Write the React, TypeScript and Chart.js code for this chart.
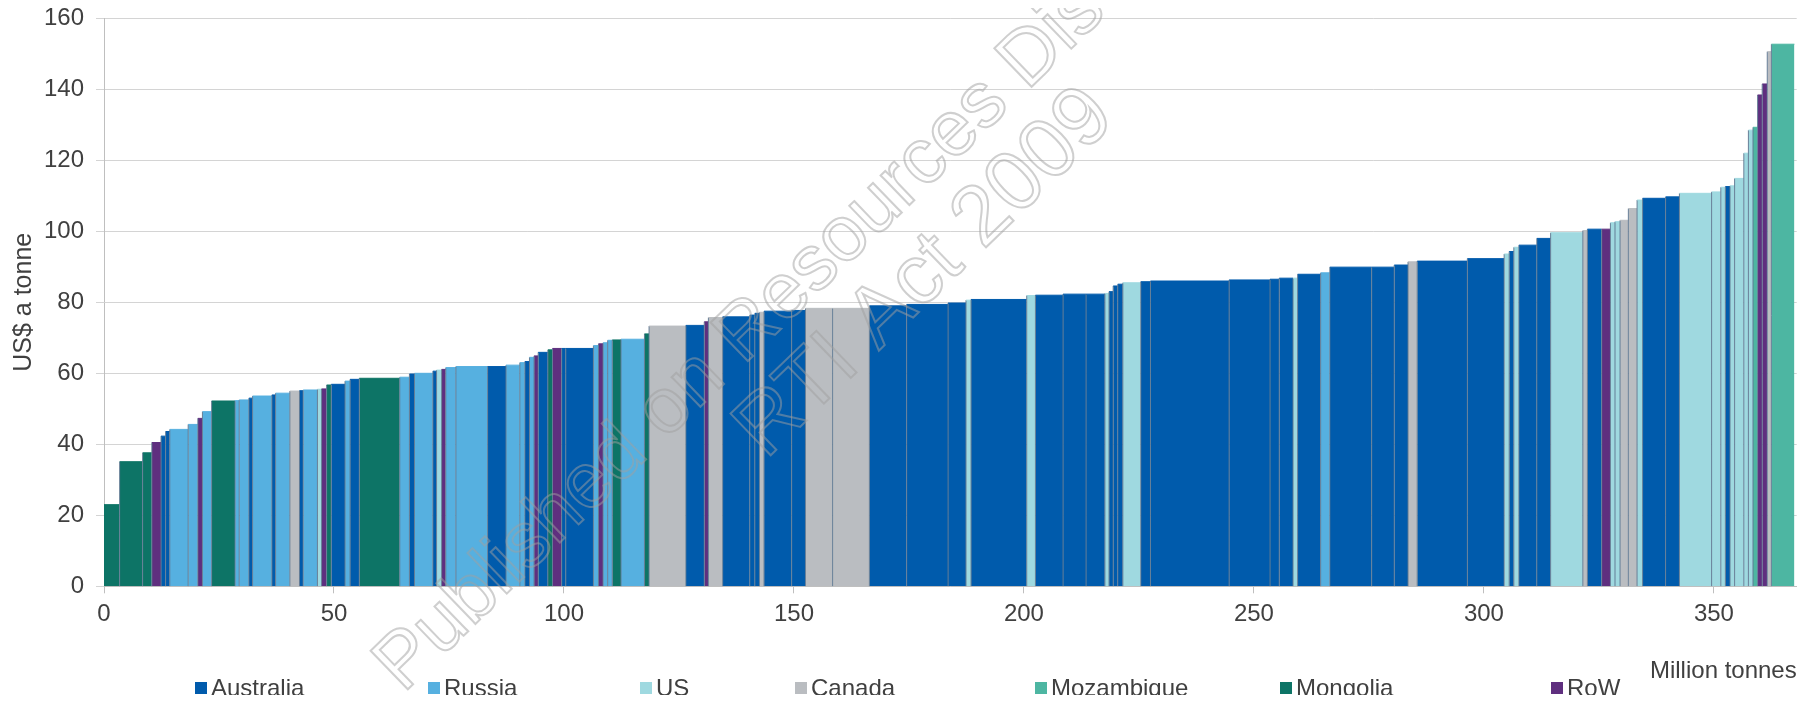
import React, { useEffect, useRef } from "react";
import { Chart, registerables } from "chart.js";

Chart.register(...registerables);

// ---- Data ----
const countryKeys = ["AU", "RU", "US", "CA", "MZ", "MN", "RW"];
const countryLabels = ["Australia", "Russia", "US", "Canada", "Mozambique", "Mongolia", "RoW"];
const countryColors = ["#005bac", "#56b0e0", "#9fd9e0", "#babdc1", "#4db6a2", "#0d7466", "#5f2f7f"];

// volume of each supply block (million tonnes), in cost order
const volumes = [
  3.4, 5.0, 2.0, 2.0, 1.0, 0.9, 4.0, 2.1, 1.0, 2.0,
  5.1, 0.9, 2.1, 0.8, 4.2, 0.8, 3.1, 2.1, 0.8, 3.1,
  0.9, 1.1, 1.0, 3.0, 1.1, 2.0, 8.8, 2.1, 1.1, 4.0,
  0.8, 1.1, 0.9, 2.2, 6.9, 4.0, 3.0, 1.1, 1.0, 1.0,
  0.9, 2.1, 1.0, 2.0, 0.9, 6.0, 1.1, 1.0, 1.0, 1.0,
  1.9, 5.1, 1.0, 8.0, 4.0, 0.9, 3.1, 5.9, 1.1, 1.0,
  1.0, 6.0, 3.0, 5.9, 8.0, 8.1, 9.0, 3.9, 1.1, 12.1,
  1.9, 6.0, 5.0, 4.1, 0.9, 0.9, 1.0, 1.1, 3.9, 2.1,
  17.1, 8.9, 2.0, 3.0, 1.0, 5.0, 2.0, 9.1, 4.9, 3.0,
  2.0, 10.9, 8.0, 1.1, 1.0, 1.1, 3.9, 3.0, 7.0, 1.0,
  3.1, 1.9, 1.0, 1.1, 1.8, 1.9, 1.2, 5.0, 3.0, 7.0,
  2.0, 1.0, 1.0, 1.0, 2.0, 1.0, 1.0, 1.0, 1.0, 1.1,
  0.9, 5.0,
];

// cost of each block (US$ a tonne)
const costs = [
  23.0, 35.1, 37.6, 40.5, 42.3, 43.6, 44.2, 45.6, 47.3, 49.2,
  52.2, 52.3, 52.5, 53.0, 53.6, 53.9, 54.4, 55.0, 55.1, 55.3,
  55.5, 55.6, 56.7, 56.9, 57.8, 58.3, 58.6, 58.9, 59.8, 60.0,
  60.6, 60.9, 61.1, 61.6, 61.9, 61.9, 62.3, 63.0, 63.3, 64.5,
  64.9, 65.9, 66.6, 67.0, 67.0, 67.0, 67.8, 68.3, 68.6, 69.3,
  69.4, 69.6, 71.1, 73.3, 73.5, 74.5, 75.7, 75.9, 76.4, 76.9,
  77.2, 77.5, 77.7, 78.3, 78.3, 79.0, 79.4, 79.8, 80.6, 80.8,
  81.9, 82.0, 82.3, 82.3, 82.5, 83.0, 84.6, 85.1, 85.5, 85.8,
  86.0, 86.3, 86.5, 86.8, 86.8, 87.9, 88.3, 89.9, 89.9, 90.5,
  91.4, 91.6, 92.3, 93.6, 94.3, 95.5, 96.1, 98.0, 99.6, 100.2,
  100.6, 100.6, 102.4, 102.7, 103.1, 106.4, 108.8, 109.3, 109.7, 110.7,
  111.1, 112.4, 112.6, 112.8, 114.9, 122.0, 128.5, 129.3, 138.4, 141.5,
  150.6, 152.7,
];

// country of each block
const origins = [
  "MN", "MN", "MN", "RW", "AU", "AU", "RU", "RU", "RW", "RU",
  "MN", "RU", "RU", "AU", "RU", "AU", "RU", "CA", "AU", "RU",
  "US", "RW", "MN", "AU", "RU", "AU", "MN", "RU", "AU", "RU",
  "AU", "US", "RW", "RU", "RU", "AU", "RU", "RU", "AU", "RU",
  "RW", "AU", "MN", "RW", "AU", "AU", "RU", "RW", "RU", "RU",
  "MN", "RU", "MN", "CA", "AU", "RW", "CA", "AU", "AU", "AU",
  "CA", "AU", "AU", "CA", "CA", "AU", "AU", "AU", "US", "AU",
  "US", "AU", "AU", "AU", "US", "AU", "AU", "AU", "US", "AU",
  "AU", "AU", "AU", "AU", "US", "AU", "RU", "AU", "AU", "AU",
  "CA", "AU", "AU", "US", "AU", "US", "AU", "AU", "US", "CA",
  "AU", "RW", "US", "US", "CA", "CA", "US", "AU", "AU", "US",
  "US", "US", "AU", "US", "US", "US", "US", "MZ", "RW", "RW",
  "CA", "MZ",
];

const yTitle = "US$ a tonne";
const xTitle = "Million tonnes";
const watermarkLines = ["Published on Resources Disclosure", "RTI Act 2009"];

// ---- Layout / style (not data) ----
const W = 1802;
const H = 687;
const FONT = "'Liberation Sans', Arial, sans-serif";
const TEXT = "#404040";
const LEGEND_LEFT = [187, 420, 632, 787, 1027, 1272, 1543];

const watermarkPlugin = {
  id: "watermark",
  afterDraw(chart: any) {
    const ctx = chart.ctx;
    ctx.save();
    ctx.translate(889, 236);
    ctx.rotate((-44 * Math.PI) / 180);
    ctx.textAlign = "center";
    ctx.textBaseline = "middle";
    ctx.strokeStyle = "rgba(160,160,160,0.5)";
    ctx.lineWidth = 2;
    ctx.font = "78px " + FONT;
    ctx.strokeText(watermarkLines[0], -52, -41);
    ctx.font = "84px " + FONT;
    ctx.strokeText(watermarkLines[1], 0, 41);
    ctx.restore();
  },
};

export default function App() {
  const ref = useRef<HTMLCanvasElement | null>(null);

  useEffect(() => {
    if (!ref.current) return;
    const datasets: any[] = [];
    let x0 = 0;
    const n = volumes.length;
    for (let i = 0; i < n; i++) {
      const x1 = x0 + volumes[i];
      const h = costs[i];
      const ci = countryKeys.indexOf(origins[i]);
      const col = countryColors[ci];
      datasets.push({
        label: countryLabels[ci],
        data: [
          { x: x0, y: 0 },
          { x: x0, y: h },
          { x: x1, y: h },
        ],
        backgroundColor: col,
        borderColor: col,
        borderWidth: 1,
        fill: "origin",
        pointRadius: 0,
        tension: 0,
        order: n - i,
        segment: {
          borderColor: (c: any) =>
            c.p0DataIndex === 0 ? (i === 0 ? col : "rgba(95,120,145,0.95)") : col,
        },
      });
      x0 = x1;
    }

    const chart = new Chart(ref.current, {
      type: "line",
      data: { datasets },
      plugins: [watermarkPlugin],
      options: {
        animation: false,
        responsive: true,
        maintainAspectRatio: false,
        layout: { padding: { top: 10.3, bottom: 8.7, left: 0, right: 13.3 } },
        plugins: {
          legend: { display: false },
          tooltip: { enabled: false },
        },
        events: [],
        scales: {
          x: {
            type: "linear",
            min: 0,
            max: 368,
            ticks: {
              stepSize: 50,
              color: TEXT,
              padding: 7,
              maxRotation: 0,
              font: { family: FONT, size: 24 },
            },
            afterBuildTicks: (axis: any) => {
              axis.ticks = axis.ticks.filter((t: any) => t.value % 50 === 0);
            },
            afterFit: (s: any) => {
              s.height = 100;
              s.paddingLeft = 0;
              s.paddingRight = 0;
            },
            grid: {
              drawOnChartArea: false,
              drawTicks: true,
              tickLength: 7,
              color: "#bfbfbf",
            },
            border: { display: true, color: "#bfbfbf", width: 1 },
            title: {
              display: true,
              text: xTitle,
              align: "end",
              color: TEXT,
              padding: { top: 0, bottom: 1 },
              font: { family: FONT, size: 24 },
            },
          },
          y: {
            type: "linear",
            min: 0,
            max: 160,
            ticks: {
              stepSize: 20,
              color: TEXT,
              padding: 12,
              font: { family: FONT, size: 24 },
            },
            afterFit: (s: any) => {
              s.width = 96;
              s.paddingTop = 0;
              s.paddingBottom = 0;
            },
            grid: {
              color: "#d4d4d4",
              tickLength: 8,
              lineWidth: 1,
            },
            border: { display: true, color: "#bfbfbf", width: 1 },
            title: {
              display: true,
              text: yTitle,
              color: TEXT,
              padding: { top: 1, bottom: 0 },
              font: { family: FONT, size: 25 },
            },
          },
        },
      } as any,
    });
    return () => chart.destroy();
  }, []);

  return (
    <div style={{ position: "relative", width: W, height: H, fontFamily: FONT }}>
      <div style={{ position: "absolute", left: 0, top: 0, width: W, height: H }}>
        <canvas ref={ref} />
      </div>
      {countryLabels.map((label, i) => (
        <div
          key={label}
          style={{
            position: "absolute",
            left: LEGEND_LEFT[i],
            top: 666,
            height: 28,
            display: "flex",
            alignItems: "center",
            gap: 4,
            fontSize: 24,
            lineHeight: "28px",
            color: TEXT,
            whiteSpace: "nowrap",
          }}
        >
          <span style={{ display: "inline-block", width: 12, height: 12, background: countryColors[i] }} />
          <span>{label}</span>
        </div>
      ))}
    </div>
  );
}
